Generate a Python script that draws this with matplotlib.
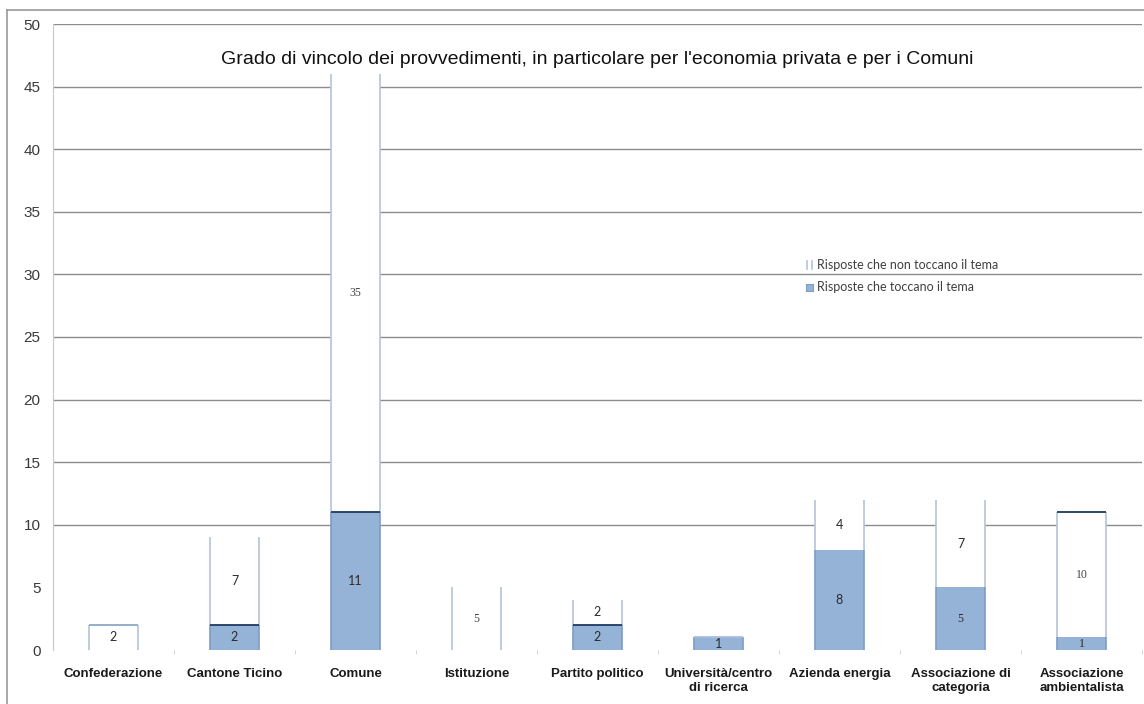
import matplotlib.pyplot as plt
from matplotlib.patches import Rectangle

# dati
categorie = ['Confederazione', 'Cantone Ticino', 'Comune', 'Istituzione', 'Partito politico',
             'Università/centro\ndi ricerca', 'Azienda energia', 'Associazione di\ncategoria',
             'Associazione\nambientalista']
toccano = [0, 2, 11, 0, 2, 1, 8, 5, 1]
non_toccano = [2, 7, 35, 5, 2, 0, 4, 7, 10]
titolo = "Grado di vincolo dei provvedimenti, in particolare per l'economia privata e per i Comuni"
leg_non = 'Risposte che non toccano il tema'
leg_si = 'Risposte che toccano il tema'

# stile (bordi e font delle etichette)
BLU = '#95B3D7'
BLU_LATO = '#7E9CC4'
BIANCO_LATO = '#B4C4D8'
NAVY = '#1F3A60'
bordo_top_blu = [None, NAVY, NAVY, None, NAVY, '#A9BFDC', None, None, None]
bordo_top_bianco = ['#8FA8C8', None, None, None, None, None, None, None, NAVY]
serif_blu = [False, False, False, False, False, False, False, True, True]
serif_bianco = [False, False, True, True, False, False, False, False, True]

W, H = 1144, 704
fig = plt.figure(figsize=(W / 100, H / 100), dpi=100)
ax = fig.add_axes([53 / W, (H - 650) / H, (1142 - 53) / W, (650 - 24) / H])

# cornice esterna
fig.add_artist(plt.Line2D([7 / W, 7 / W], [0, 1 - 10 / H], color='#9a9a9a', lw=1.2))
fig.add_artist(plt.Line2D([7 / W, 1], [1 - 10 / H, 1 - 10 / H], color='#9a9a9a', lw=1.2))

x = list(range(len(categorie)))
bw = 0.4

# griglia (sotto le barre)
for g in range(10, 51, 5):
    ax.axhline(g, color='#8c8c8c', lw=1.0, zorder=0)

ax.bar(x, toccano, width=bw, color=BLU, edgecolor='none', zorder=2)
ax.bar(x, non_toccano, width=bw, bottom=toccano, color='white', edgecolor='none', zorder=2)

for i in x:
    l, r = i - bw / 2, i + bw / 2
    b = toccano[i]
    t = toccano[i] + non_toccano[i]
    if b > 0:
        ax.vlines([l, r], 0, b, color=BLU_LATO, lw=1.2, zorder=3)
        if bordo_top_blu[i]:
            ax.hlines(b, l, r, color=bordo_top_blu[i], lw=1.3, zorder=4)
        ax.text(i, b / 2, str(b), ha='center', va='center',
                fontsize=8.5 if serif_blu[i] else 9, color='#2a2a2a',
                family='Liberation Serif' if serif_blu[i] else 'Lato', zorder=5)
    if non_toccano[i] > 0:
        ax.vlines([l, r], b, t, color=BIANCO_LATO, lw=1.2, zorder=3)
        if bordo_top_bianco[i]:
            ax.hlines(t, l, r, color=bordo_top_bianco[i], lw=1.3, zorder=4)
        ax.text(i, (b + t) / 2, str(non_toccano[i]), ha='center', va='center',
                fontsize=8.5 if serif_bianco[i] else 9,
                color='#444444' if serif_bianco[i] else '#2a2a2a',
                family='Liberation Serif' if serif_bianco[i] else 'Lato', zorder=5)

ax.set_xlim(-0.5, len(categorie) - 0.5)
ax.set_ylim(0, 50)
for s in ['top', 'right', 'bottom']:
    ax.spines[s].set_visible(False)
ax.spines['left'].set_color('#c8c8c8')

ax.set_yticks(range(0, 51, 5))
ax.tick_params(axis='y', length=0, pad=9, labelsize=11, labelcolor='#3a3a3a')
for lab in ax.get_yticklabels():
    lab.set_family('Liberation Sans')

ax.set_xticks(x)
ax.set_xticklabels(categorie, fontsize=9.5, fontweight='bold', family='Liberation Sans',
                   color='#1a1a1a', linespacing=1.25)
ax.tick_params(axis='x', length=0, pad=13)
ax.set_xticks([i + 0.5 for i in x], minor=True)
ax.tick_params(axis='x', which='minor', length=3, color='#d0d0d0', direction='out')

ax.text(0.5, 47.2, titolo, transform=ax.get_yaxis_transform(), ha='center', va='center',
        fontsize=14, family='Liberation Sans', color='#111111')

# legenda manuale
fx = lambda px: px / W
fy = lambda py: 1 - py / H
fig.add_artist(plt.Line2D([fx(807), fx(807)], [fy(269), fy(261)], color=BIANCO_LATO, lw=1.2))
fig.add_artist(plt.Line2D([fx(812), fx(812)], [fy(269), fy(261)], color=BIANCO_LATO, lw=1.2))
fig.add_artist(Rectangle((fx(806), fy(291)), 7 / W, 7 / H, transform=fig.transFigure,
                         facecolor=BLU, edgecolor=BLU_LATO, lw=0.8))
fig.text(fx(817), fy(265), leg_non, fontsize=9, family='Lato', color='#404040', va='center')
fig.text(fx(817), fy(287), leg_si, fontsize=9, family='Lato', color='#404040', va='center')

fig.savefig('out.png', dpi=100)
